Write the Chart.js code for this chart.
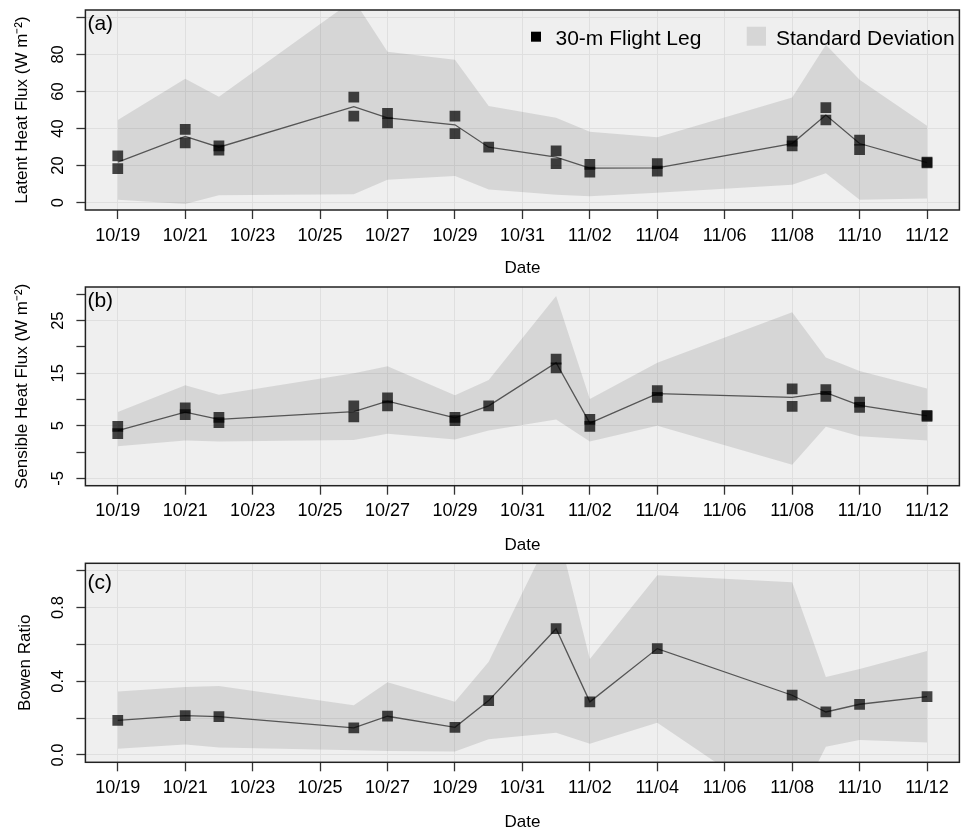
<!DOCTYPE html>
<html>
<head>
<meta charset="utf-8">
<title>30-m flight leg fluxes</title>
<script src="https://cdn.jsdelivr.net/npm/chart.js@4.4.0/dist/chart.umd.min.js"></script>
<style>
html, body { margin: 0; padding: 0; background: #fff; overflow: hidden; }
#wrap { position: relative; width: 965px; height: 831px; overflow: hidden; }
#wrap canvas { position: absolute; left: 0; }
</style>
</head>
<body>
<div id="wrap">
	<canvas id="latent-chartcanvas" width="967" height="277" style="top:0px"></canvas>
	<canvas id="sensible-chartcanvas" width="967" height="277" style="top:277px"></canvas>
	<canvas id="bowen-chartcanvas" width="967" height="277" style="top:554px"></canvas>
</div>
<script>
"use strict";

// flight dates (month/day)
var flightDates = ["10/19","10/21","10/22","10/26","10/27","10/29","10/30","11/01","11/02","11/04","11/08","11/09","11/10","11/12"];

// latent heat flux, W m-2 (two 30-m legs per day, daily mean, +/- 1 sd)
var latentLeg1  = [25.2, 39.5, 30.6, 56.9, 48.2, 46.7, 29.9, 27.9, 20.6, 21.0, 33.2, 51.3, 33.7, 21.8];
var latentLeg2  = [18.3, 32.2, 28.3, 46.7, 43.1, 37.3, null, 21.0, 16.5, 17.0, 30.6, 44.6, 28.6, 21.4];
var latentMean  = [21.9, 35.7, 29.9, 51.8, 45.7, 42.0, 29.9, 24.6, 18.6, 18.8, 31.9, 47.3, 31.9, 21.6];
var latentUpper = [44.6, 66.9, 57.1, 109.5, 81.4, 77.2, 52.2, 45.8, 38.2, 35.3, 56.7, 85.3, 66.3, 41.5];
var latentLower = [1.6, -0.7, 4.0, 4.5, 12.3, 14.3, 7.1, 4.3, 3.4, 5.3, 9.6, 15.9, 1.6, 2.2];

// sensible heat flux, W m-2
var sensibleLeg1  = [4.9, 8.4, 6.6, 8.8, 10.3, 6.6, 8.8, 17.7, 6.2, 11.7, 12.0, 11.9, 9.5, 7.0];
var sensibleLeg2  = [3.5, 7.1, 5.6, 6.7, 8.8, 6.0, null, 16.0, 4.9, 10.4, 8.7, 10.6, 8.5, 6.8];
var sensibleMean  = [4.1, 7.6, 6.2, 7.7, 9.7, 6.5, 8.8, 17.0, 5.5, 11.1, 10.4, 11.3, 8.9, 6.9];
var sensibleUpper = [7.6, 12.7, 10.9, 15.0, 16.3, 10.8, 13.7, 29.7, 10.1, 17.0, 26.6, 18.0, 15.4, 12.1];
var sensibleLower = [1.1, 2.2, 2.0, 2.3, 3.5, 2.4, 4.1, 6.2, 2.0, 5.0, -2.4, 4.8, 3.0, 2.2];

// bowen ratio
var bowenRatio = [0.188, 0.213, 0.208, 0.147, 0.210, 0.150, 0.295, 0.685, 0.288, 0.577, 0.324, 0.233, 0.275, 0.316];
var bowenUpper = [0.344, 0.369, 0.374, 0.270, 0.394, 0.288, 0.506, 1.255, 0.521, 0.975, 0.937, 0.423, 0.467, 0.564];
var bowenLower = [0.033, 0.056, 0.040, 0.025, 0.022, 0.018, 0.085, 0.121, 0.060, 0.174, -0.32, 0.045, 0.081, 0.067];

// axis ticks
var dateTicks = ["10/19","10/21","10/23","10/25","10/27","10/29","10/31","11/02","11/04","11/06","11/08","11/10","11/12"];
var latentTicks = [0, 20, 40, 60, 80, 100];
var latentLabels = [0, 20, 40, 60, 80];
var sensibleTicks = [-5, 0, 5, 10, 15, 20, 25, 30];
var sensibleLabels = [-5, 5, 15, 25];
var bowenTicks = [0, 0.2, 0.4, 0.6, 0.8, 1.0];
var bowenLabels = [0, 0.4, 0.8];

var FONT = "'Liberation Sans', Arial, Helvetica, sans-serif";
var PANEL_BG = "#efefef";
var GRID = "#dfdfdf";
var BAND = "rgba(0,0,0,0.1)";
var SQUARE = "rgba(0,0,0,0.72)";
var LINE = "#555555";

// days since 10/19
function dayOf(md) {
	var p = md.split("/");
	var m = parseInt(p[0], 10), d = parseInt(p[1], 10);
	return m === 10 ? d - 19 : d + 12;
}
var flightDays = flightDates.map(dayOf);
var tickDays = dateTicks.map(dayOf);

function pts(vals) {
	return vals.map(function(v, i) { return { x: flightDays[i], y: v }; });
}

// background, frame, rotated y labels, panel letter, legend
var panelDecor = {
	id: "panelDecor",
	beforeDraw: function(chart) {
		var a = chart.chartArea, ctx = chart.ctx;
		ctx.save();
		ctx.fillStyle = PANEL_BG;
		ctx.fillRect(a.left, a.top, a.right - a.left, a.bottom - a.top);
		ctx.restore();
	},
	afterDraw: function(chart, args, opts) {
		var a = chart.chartArea, ctx = chart.ctx, ys = chart.scales.y;
		ctx.save();
		ctx.fillStyle = "#000";
		ctx.font = "16.5px " + FONT;
		ctx.textAlign = "center";
		ctx.textBaseline = "middle";
		opts.labels.forEach(function(v) {
			ctx.save();
			ctx.translate(58.5, ys.getPixelForValue(v));
			ctx.rotate(-Math.PI / 2);
			ctx.fillText(opts.format(v), 0, 0);
			ctx.restore();
		});

		ctx.strokeStyle = "#222";
		ctx.lineWidth = 1.5;
		ctx.strokeRect(a.left, a.top, a.right - a.left, a.bottom - a.top);

		ctx.font = "21px " + FONT;
		ctx.textAlign = "left";
		ctx.textBaseline = "alphabetic";
		ctx.fillText(opts.letter, a.left + 2, a.top + opts.letterY);

		if (opts.legend) {
			ctx.fillStyle = "#000";
			ctx.fillRect(531, 31.7, 10, 10);
			ctx.fillText("30-m Flight Leg", 555.5, 44.5);
			ctx.fillStyle = "#d6d6d6";
			ctx.fillRect(746.7, 26.7, 19.3, 19);
			ctx.fillStyle = "#000";
			ctx.fillText("Standard Deviation", 776, 44.5);
		}
		ctx.restore();
	}
};

function makeChart(canvasId, p) {
	var plotLeft = 85.4;
	var xAxisH = 277 - p.padTop - p.plotH;
	var datasets = [
		{ label: "sd upper", data: pts(p.upper), fill: "+1", backgroundColor: BAND, borderColor: "rgba(0,0,0,0)", borderWidth: 0, pointRadius: 0, order: 3 },
		{ label: "sd lower", data: pts(p.lower), fill: false, borderColor: "rgba(0,0,0,0)", borderWidth: 0, pointRadius: 0, order: 3 },
		{ label: "mean", data: pts(p.mean), fill: false, borderColor: LINE, borderWidth: 1.3, pointRadius: 0, tension: 0, order: 2 }
	];
	p.legs.forEach(function(leg, i) {
		datasets.push({
			label: "30-m Flight Leg " + (i + 1),
			data: pts(leg),
			showLine: false,
			pointStyle: "rect",
			pointRadius: 7.6,
			pointBackgroundColor: SQUARE,
			pointBorderColor: "rgba(0,0,0,0)",
			pointBorderWidth: 0,
			order: 1
		});
	});

	return new Chart(document.getElementById(canvasId), {
		type: "line",
		data: { datasets: datasets },
		plugins: [panelDecor],
		options: {
			responsive: false,
			animation: false,
			events: [],
			layout: { padding: { top: p.padTop, left: 0, right: 0.4, bottom: 0 } },
			plugins: {
				legend: { display: false },
				tooltip: { enabled: false },
				panelDecor: { labels: p.yLabels, format: p.format, letter: p.letter, letterY: p.letterY, legend: p.legend }
			},
			scales: {
				x: {
					type: "linear",
					min: -0.96,
					max: 24.96,
					afterBuildTicks: function(scale) {
						scale.ticks = tickDays.map(function(v) { return { value: v }; });
					},
					afterFit: function(scale) {
						scale.height = xAxisH;
						scale.paddingLeft = 0;
						scale.paddingRight = 0;
					},
					ticks: {
						autoSkip: false,
						minRotation: 0,
						maxRotation: 0,
						padding: 6,
						color: "#000",
						font: { family: FONT, size: 18 },
						callback: function(v) {
							var i = tickDays.indexOf(v);
							return i >= 0 ? dateTicks[i] : "";
						}
					},
					grid: { color: GRID, lineWidth: 1, tickColor: "#333", tickLength: 9, tickWidth: 1.3 },
					border: { display: false },
					title: { display: true, text: "Date", color: "#000", font: { family: FONT, size: 17, lineHeight: 1 }, padding: 0 }
				},
				y: {
					type: "linear",
					min: p.yMin,
					max: p.yMax,
					afterBuildTicks: function(scale) {
						scale.ticks = p.yTicks.map(function(v) { return { value: v }; });
					},
					afterFit: function(scale) {
						scale.width = plotLeft;
						scale.paddingTop = 0;
						scale.paddingBottom = 0;
					},
					ticks: { display: false },
					grid: {
						color: function(c) {
							return c.tick && p.yGrid.indexOf(c.tick.value) >= 0 ? GRID : "rgba(0,0,0,0)";
						},
						lineWidth: 1,
						tickColor: "#333",
						tickLength: 9,
						tickWidth: 1.3
					},
					border: { display: false },
					title: { display: true, text: p.yTitle, color: "#000", font: { family: FONT, size: 17, lineHeight: 1.2 }, padding: { top: p.titlePad, bottom: 0 } }
				}
			}
		}
	});
}

var latentChart = makeChart("latent-chartcanvas", {
	padTop: 10, plotH: 200, yMin: -4, yMax: 104,
	yTicks: latentTicks, yGrid: latentTicks, yLabels: latentLabels,
	format: function(v) { return String(v); },
	yTitle: "Latent Heat Flux (W m\u207B\u00B2)", titlePad: 12.3,
	letter: "(a)", letterY: 20, legend: true,
	upper: latentUpper, lower: latentLower, mean: latentMean, legs: [latentLeg1, latentLeg2]
});

var sensibleChart = makeChart("sensible-chartcanvas", {
	padTop: 10, plotH: 198.7, yMin: -6.4, yMax: 31.4,
	yTicks: sensibleTicks, yGrid: sensibleLabels, yLabels: sensibleLabels,
	format: function(v) { return String(v); },
	yTitle: "Sensible Heat Flux (W m\u207B\u00B2)", titlePad: 12,
	letter: "(b)", letterY: 20.2, legend: false,
	upper: sensibleUpper, lower: sensibleLower, mean: sensibleMean, legs: [sensibleLeg1, sensibleLeg2]
});

var bowenChart = makeChart("bowen-chartcanvas", {
	padTop: 9.3, plotH: 199, yMin: -0.04, yMax: 1.04,
	yTicks: bowenTicks, yGrid: bowenTicks, yLabels: bowenLabels,
	format: function(v) { return v.toFixed(1); },
	yTitle: "Bowen Ratio", titlePad: 15.1,
	letter: "(c)", letterY: 26, legend: false,
	upper: bowenUpper, lower: bowenLower, mean: bowenRatio, legs: [bowenRatio]
});
</script>
</body>
</html>
